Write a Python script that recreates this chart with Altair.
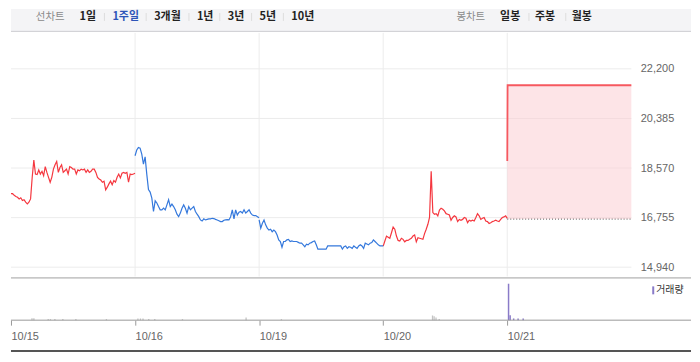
import json
import altair as alt
import pandas as pd

# ---------------- data ----------------
dates = ["10/15", "10/16", "10/19", "10/20", "10/21"]
day_trend = ["up", "down", "down", "up", "up"]  # line colour of each session

# intraday prices, evenly spaced through the 09:00-15:30 session
price_1015 = [17630, 17630, 17570, 17530, 17500, 17440, 17480, 17380, 17410, 17320,
              17260, 17320, 17440, 18230, 18860, 18350, 18330, 18500, 18350, 18450,
              18290, 18620, 18410, 18230, 18050, 18230, 18530, 18690, 18810, 18410,
              18590, 18690, 18410, 18470, 18530, 18350, 18620, 18590, 18530, 18530,
              18350, 18500, 18470, 18530, 18500, 18530, 18410, 18500, 18410, 18450,
              18530, 18530, 18410, 18230, 18170, 18130, 18050, 18090, 17770, 17870,
              17990, 18090, 17960, 18110, 18050, 18230, 18350, 18210, 18380, 18410,
              18380, 18410, 18050, 18350, 18330, 18350, 18380]
price_1016 = [19020, 19230, 19320, 19300, 19080, 18710, 18980, 18340, 17780, 17690,
              17470, 16980, 17370, 17290, 17160, 17040, 17040, 17100, 17040, 17220,
              17410, 17160, 17250, 17160, 17040, 16880, 16790, 16920, 17100, 17220,
              17100, 16920, 17160, 17040, 17100, 17160, 16980, 16880, 16790, 16670,
              16630, 16710, 16670, 16690, 16710, 16710, 16730, 16720, 16690, 16670,
              16640, 16610, 16610, 16660, 16670, 16680, 16670, 16790, 17040, 16710,
              17040, 16850, 16950, 16980, 16920, 17040, 16920, 16980, 17040, 16920,
              16850, 16830, 16830, 16790, 16750]
price_1019 = [16670, 16370, 16550, 16670, 16490, 16370, 16300, 16330, 16240, 16300,
              16240, 16120, 15940, 15880, 15670, 15880, 15880, 15940, 15960, 15880,
              15900, 15880, 15880, 15880, 15850, 15820, 15820, 15760, 15690, 15780,
              15760, 15820, 15840, 15880, 15900, 15760, 15600, 15600, 15600, 15600,
              15600, 15600, 15720, 15720, 15720, 15720, 15720, 15720, 15720, 15720,
              15720, 15600, 15690, 15720, 15630, 15690, 15670, 15630, 15720, 15670,
              15630, 15720, 15760, 15720, 15630, 15820, 15790, 15760, 15820, 15840,
              15940, 15880, 15820, 15760, 15720, 15720, 15720]
price_1020 = [15710, 15900, 16080, 16040, 16000, 16200, 16410, 16330, 16080, 15920,
              15900, 16000, 15960, 15870, 15920, 15920, 15960, 16000, 16080, 16120,
              15870, 16020, 16000, 15980, 15960, 16170, 16330, 16510, 16760, 18450,
              16940, 16880, 16900, 16820, 17030, 17100, 17060, 17000, 16900, 16880,
              16850, 16660, 16760, 16820, 16780, 16610, 16690, 16660, 16690, 16760,
              16730, 16570, 16660, 16630, 16660, 16630, 16760, 16900, 16820, 16690,
              16730, 16760, 16630, 16610, 16540, 16570, 16610, 16630, 16660, 16630,
              16610, 16690, 16760, 16780, 16820, 16730]
# 10/21: opening print, then locked at the upper limit for the whole session
minutes_1021 = [0, 1, 390]
price_1021 = [18830, 21600, 21600]

prev_close = 16700
y_ticks = [14940, 16755, 18570, 20385, 22200]

# volume (session index, time, shares)
vol_day = [0, 0, 0, 0, 0, 0, 0, 0, 1, 1, 1, 1, 1, 1, 1, 2, 3, 3, 3, 3, 4, 4, 4, 4, 4]
vol_time = ["10:06", "10:12", "10:57", "11:04", "11:18", "11:43", "12:24", "14:00",
            "09:09", "09:17", "09:25", "09:43", "10:02", "11:29", "14:49",
            "10:10",
            "11:35", "11:40", "11:46", "11:56",
            "09:04", "09:09", "09:20", "09:34", "09:50"]
vol_value = [45000, 45000, 25000, 25000, 25000, 25000, 25000, 25000,
             40000, 40000, 40000, 25000, 25000, 25000, 63000,
             25000,
             110000, 93000, 63000, 25000,
             853000, 116000, 40000, 40000, 40000]

chart_types = ["선차트", "봉차트"]
period_tabs = ["1일", "1주일", "3개월", "1년", "3년", "5년", "10년"]
candle_tabs = ["일봉", "주봉", "월봉"]
volume_label = "거래량"

# ---------------- tables ----------------
SESSION = 390.0
rows = []
for d, prices in enumerate([price_1015, price_1016, price_1019, price_1020]):
    n = len(prices)
    for i, p in enumerate(prices):
        m = i * SESSION / (n - 1)
        rows.append({"x": d + m / SESSION, "price": p, "day": dates[d], "trend": day_trend[d]})
price_df = pd.DataFrame(rows)
today_df = pd.DataFrame({"x": [4 + m / SESSION for m in minutes_1021], "price": price_1021})


def to_min(t):
    h, mm = t.split(":")
    return (int(h) - 9) * 60 + int(mm)


vol_df = pd.DataFrame({
    "x": [d + to_min(t) / SESSION for d, t in zip(vol_day, vol_time)],
    "vol": vol_value,
    "kind": ["today" if d == 4 else "past" for d in vol_day],
})
prev_df = pd.DataFrame({"x": [4], "x2": [5], "price": [prev_close]})
hgrid_df = pd.DataFrame({"price": y_ticks})
vgrid_df = pd.DataFrame({"x": [1, 2, 3, 4]})
one = pd.DataFrame({"a": [0]})

# ---------------- layout ----------------
W_ALL = 684
W = 624
H_BAR = 23
H_PRICE = 245
H_VOL = 43
KFONT = "Noto Sans CJK KR"
NFONT = "Liberation Sans"

x_scale = alt.Scale(domain=[0, 5], nice=False, zero=False)
y_scale = alt.Scale(domain=[14602, 23518], nice=False, zero=False)
x_plain = alt.X("x:Q", scale=x_scale, axis=None)
y_axis = alt.Axis(orient="right", values=y_ticks, format=",d", grid=False, domain=False,
                  ticks=False, labelPadding=9, labelColor="#666666", labelFontSize=11,
                  labelFont=NFONT, title=None, labelAlign="left")
y_enc = alt.Y("price:Q", scale=y_scale, axis=y_axis)

# toolbar
tb = [
    alt.Chart(one).mark_rect(color="#f4f4f6").encode(
        x=alt.value(0), x2=alt.value(W_ALL), y=alt.value(0), y2=alt.value(H_BAR)),
    alt.Chart(one).mark_rule(color="#cdcdd2").encode(
        x=alt.value(0), x2=alt.value(W_ALL), y=alt.value(H_BAR - 0.5)),
]


def label(txt, x, color="#222222", bold=True, size=11):
    return alt.Chart(one).mark_text(
        text=txt, align="left", baseline="middle", font=KFONT, fontSize=size,
        fontWeight="bold" if bold else "normal", color=color).encode(
        x=alt.value(x), y=alt.value(8.5))


def sep(x):
    return alt.Chart(one).mark_rule(color="#dddddd").encode(
        x=alt.value(x), y=alt.value(4), y2=alt.value(12))


tb.append(label(chart_types[0], 25, "#8a8a8a", False, 10.5))
tab_x = [69, 102, 144, 187, 218, 250, 282]
for i, (t, x) in enumerate(zip(period_tabs, tab_x)):
    tb.append(label(t, x, "#2d54b8" if i == 1 else "#222222"))
    if i > 0:
        tb.append(sep(x - 8))
tb.append(label(chart_types[1], 448, "#8a8a8a", False, 10.5))
cand_x = [492, 527, 564]
for i, (t, x) in enumerate(zip(candle_tabs, cand_x)):
    tb.append(label(t, x))
    if i > 0:
        tb.append(sep(x - 6))
toolbar = alt.layer(*tb).properties(width=W_ALL, height=H_BAR)

# price pane
hgrid = alt.Chart(hgrid_df).mark_rule(color="#ececec").encode(y=y_enc)
vgrid = alt.Chart(vgrid_df).mark_rule(color="#ececec").encode(x=x_plain)
area = alt.Chart(today_df).mark_area(color="#fbcdd3", opacity=0.55).encode(
    x=x_plain, y=y_enc, y2=alt.datum(prev_close))
up_lines = alt.Chart(price_df[price_df.trend == "up"]).mark_line(strokeWidth=1.2, color="#f5373f").encode(
    x=x_plain, y=y_enc, detail="day:N")
down_lines = alt.Chart(price_df[price_df.trend == "down"]).mark_line(strokeWidth=1.2, color="#3478dc").encode(
    x=x_plain, y=y_enc, detail="day:N")
today_line = alt.Chart(today_df).mark_line(strokeWidth=1.8, color="#f6585f").encode(x=x_plain, y=y_enc)
prev_rule = alt.Chart(prev_df).mark_rule(color="#555555", strokeDash=[1, 2]).encode(
    x=x_plain, x2="x2:Q", y=y_enc)
price = alt.layer(hgrid, vgrid, area, up_lines, down_lines, today_line, prev_rule).properties(
    width=W, height=H_PRICE)

# volume pane
x_axis = alt.Axis(values=[0, 1, 2, 3, 4], labelExpr=json.dumps(dates) + "[datum.value]",
                  labelAlign="left", tickSize=5, tickColor="#999999", domain=False, grid=False,
                  labelColor="#666666", labelFontSize=11, labelFont=NFONT, labelPadding=5,
                  title=None, labelFlush=False, labelOverlap=False)
vol_y = alt.Y("vol:Q", scale=alt.Scale(domain=[0, 1000000], nice=False), axis=None)
past_bars = alt.Chart(vol_df[vol_df.kind == "past"]).mark_rule(strokeWidth=1.3, color="#c4c4c4").encode(
    x=alt.X("x:Q", scale=x_scale, axis=x_axis), y=vol_y, y2=alt.datum(0))
today_bars = alt.Chart(vol_df[vol_df.kind == "today"]).mark_rule(strokeWidth=1.5, color="#8a7bc8").encode(
    x=alt.X("x:Q", scale=x_scale, axis=x_axis), y=vol_y, y2=alt.datum(0))
top_line = alt.Chart(one).mark_rule(color="#a0a0a0").encode(
    x=alt.value(0), x2=alt.value(W_ALL), y=alt.value(0.5))
axis_line = alt.Chart(one).mark_rule(color="#999999").encode(
    x=alt.value(0), x2=alt.value(W_ALL), y=alt.value(H_VOL))
foot_line = alt.Chart(one).mark_rule(color="#555555", strokeWidth=2).encode(
    x=alt.value(0), x2=alt.value(W_ALL), y=alt.value(74))
leg_box = alt.Chart(one).mark_rect(color="#8a7bc8").encode(
    x=alt.value(645), x2=alt.value(647), y=alt.value(9), y2=alt.value(17))
leg_txt = alt.Chart(one).mark_text(text=volume_label, align="left", baseline="middle", font=KFONT,
                                   fontSize=10, color="#333333").encode(x=alt.value(649), y=alt.value(13))
volume = alt.layer(past_bars, today_bars, top_line, axis_line, foot_line, leg_box, leg_txt).properties(
    width=W, height=H_VOL)

chart = alt.vconcat(toolbar, price, volume, spacing=0).properties(padding=0).configure_view(stroke=None)
chart.save("out.html", embed_options={"renderer": "svg", "actions": False})
